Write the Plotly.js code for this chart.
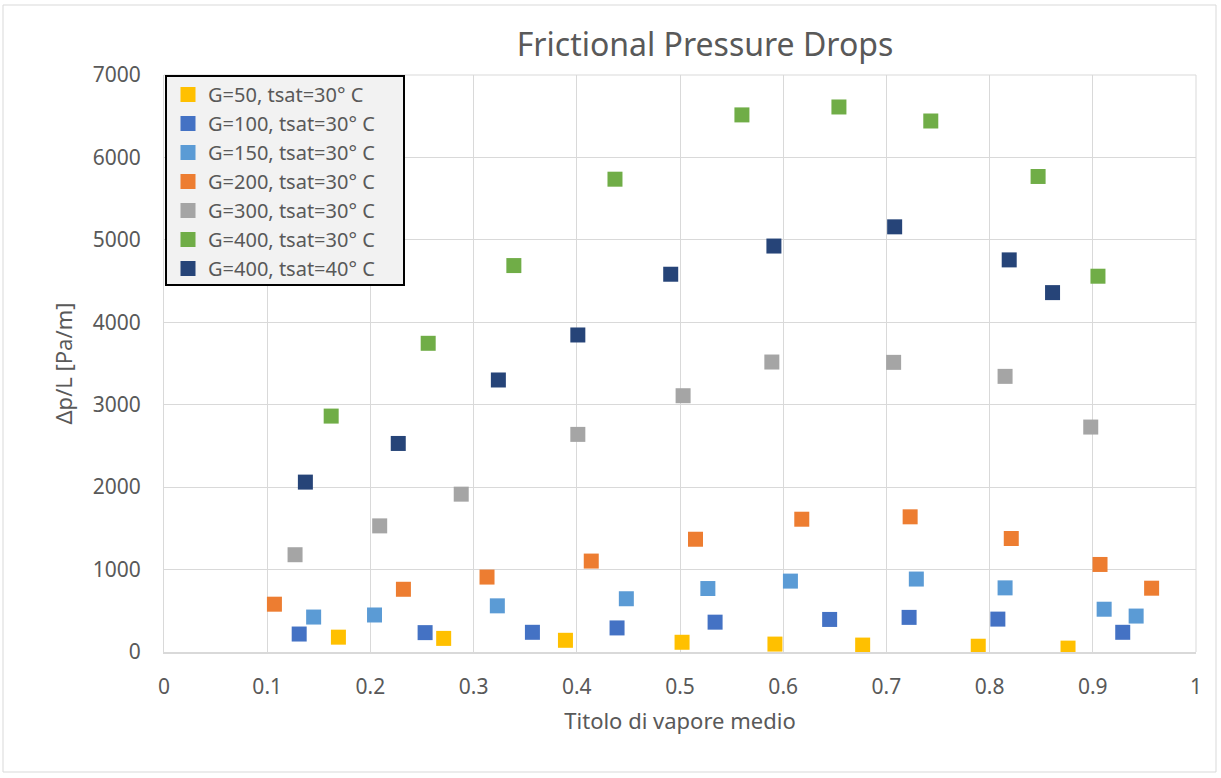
<!DOCTYPE html>
<html>
<head>
<meta charset="utf-8">
<script src="https://cdn.plot.ly/plotly-3.0.1.min.js"></script>
<style>html,body{margin:0;padding:0;background:#fff;}#chart{width:1221px;height:778px;}</style>
</head>
<body>
<div id="chart"></div>
<script>
// Series names
const seriesNames = [
  "G=50, tsat=30° C",
  "G=100, tsat=30° C",
  "G=150, tsat=30° C",
  "G=200, tsat=30° C",
  "G=300, tsat=30° C",
  "G=400, tsat=30° C",
  "G=400, tsat=40° C"
];

// Titolo di vapore medio (x) and Δp/L [Pa/m] (y) for each series
const x_G50 = [0.169, 0.271, 0.389, 0.502, 0.592, 0.677, 0.789, 0.876];
const y_G50 = [180, 165, 142, 118, 96, 84, 70, 47];

const x_G100 = [0.131, 0.253, 0.357, 0.439, 0.534, 0.645, 0.722, 0.808, 0.929];
const y_G100 = [218, 235, 239, 292, 362, 395, 420, 399, 239];

const x_G150 = [0.145, 0.204, 0.323, 0.448, 0.527, 0.607, 0.729, 0.815, 0.911, 0.942];
const y_G150 = [424, 449, 560, 646, 770, 860, 885, 778, 519, 436];

const x_G200 = [0.107, 0.232, 0.313, 0.414, 0.515, 0.618, 0.723, 0.821, 0.907, 0.957];
const y_G200 = [580, 761, 909, 1103, 1368, 1611, 1640, 1377, 1062, 774];

const x_G300 = [0.127, 0.209, 0.288, 0.401, 0.503, 0.589, 0.707, 0.815, 0.898];
const y_G300 = [1180, 1530, 1915, 2640, 3109, 3518, 3514, 3344, 2729];

const x_G400_30 = [0.162, 0.256, 0.339, 0.437, 0.560, 0.654, 0.743, 0.847, 0.905];
const y_G400_30 = [2862, 3745, 4688, 5736, 6516, 6612, 6442, 5769, 4559];

const x_G400_40 = [0.137, 0.227, 0.324, 0.401, 0.491, 0.591, 0.708, 0.819, 0.861];
const y_G400_40 = [2061, 2530, 3300, 3846, 4583, 4925, 5158, 4757, 4360];

const xTicks = [0, 0.1, 0.2, 0.3, 0.4, 0.5, 0.6, 0.7, 0.8, 0.9, 1];
const xTickLabels = ["0", "0.1", "0.2", "0.3", "0.4", "0.5", "0.6", "0.7", "0.8", "0.9", "1"];
const yTicks = [0, 1000, 2000, 3000, 4000, 5000, 6000, 7000];
const yTickLabels = ["0", "1000", "2000", "3000", "4000", "5000", "6000", "7000"];

const colors = ["#FFC000", "#4472C4", "#5B9BD5", "#ED7D31", "#A5A5A5", "#70AD47", "#264478"];
const xs = [x_G50, x_G100, x_G150, x_G200, x_G300, x_G400_30, x_G400_40];
const ys = [y_G50, y_G100, y_G150, y_G200, y_G300, y_G400_30, y_G400_40];

const FONT = "Noto Sans, Open Sans, sans-serif";
const TXT = "#595959";

const traces = seriesNames.map((n, i) => ({
  type: "scatter",
  mode: "markers",
  name: n,
  x: xs[i],
  y: ys[i],
  marker: {symbol: "square", size: 15, color: colors[i], line: {width: 0}}
}));

const L = 164, R = 25, T = 75, B = 126;
const W = 1221, H = 778;
const pw = W - L - R, ph = H - T - B;
const px2x = p => (p - L) / pw;
const py2y = p => (T + ph - p) / ph;

const layout = {
  width: W, height: H,
  margin: {l: L, r: R, t: T, b: B, pad: 0},
  paper_bgcolor: "#ffffff",
  plot_bgcolor: "#ffffff",
  font: {family: FONT, color: TXT},
  title: {
    text: "Frictional Pressure Drops",
    font: {family: FONT, size: 32, color: TXT},
    x: px2x(705), xref: "paper", xanchor: "center",
    y: 1 - 45 / H, yref: "container", yanchor: "middle"
  },
  showlegend: true,
  legend: {
    x: px2x(168), y: py2y(75), xanchor: "left", yanchor: "top",
    bgcolor: "rgba(0,0,0,0)", borderwidth: 0,
    font: {family: FONT, size: 20, color: TXT},
    itemsizing: "trace",
    tracegroupgap: 0
  },
  xaxis: {
    range: [0, 1],
    tickvals: xTicks, ticktext: xTickLabels,
    showgrid: true, gridcolor: "#d9d9d9", gridwidth: 1,
    zeroline: false,
    showline: true, linecolor: "#d9d9d9", linewidth: 2, mirror: false,
    ticks: "", ticklabelstandoff: 15,
    tickfont: {family: FONT, size: 21, color: TXT},
    title: {text: "Titolo di vapore medio", font: {family: FONT, size: 22, color: TXT}, standoff: 14},
    automargin: false
  },
  yaxis: {
    range: [0, 7000],
    tickvals: yTicks, ticktext: yTickLabels,
    showgrid: true, gridcolor: "#d9d9d9", gridwidth: 1,
    zeroline: false,
    showline: true, linecolor: "#d9d9d9", linewidth: 1,
    ticks: "", ticklabelstandoff: 18,
    tickfont: {family: FONT, size: 21, color: TXT},
    title: {text: "Δp/L [Pa/m]", font: {family: FONT, size: 22, color: TXT}, standoff: 14},
    automargin: false
  },
  shapes: [
    {type: "line", xref: "paper", yref: "paper", x0: 1, x1: 1, y0: 0, y1: 1, line: {color: "#d9d9d9", width: 1}, layer: "below"},
    {type: "line", xref: "paper", yref: "paper", x0: 0, x1: 1, y0: 1, y1: 1, line: {color: "#d9d9d9", width: 1}, layer: "below"},
    {type: "rect", xref: "paper", yref: "paper",
     x0: px2x(3), x1: px2x(1216), y0: py2y(772), y1: py2y(5),
     line: {color: "#d9d9d9", width: 1}, fillcolor: "rgba(0,0,0,0)", layer: "below"},
    // legend box
    {type: "rect", xref: "paper", yref: "paper",
     x0: px2x(166), x1: px2x(404), y0: py2y(285), y1: py2y(76),
     line: {color: "#000000", width: 2}, fillcolor: "#f2f2f2", layer: "above"}
  ]
};

Plotly.newPlot("chart", traces, layout, {displayModeBar: false, staticPlot: true});
</script>
</body>
</html>
